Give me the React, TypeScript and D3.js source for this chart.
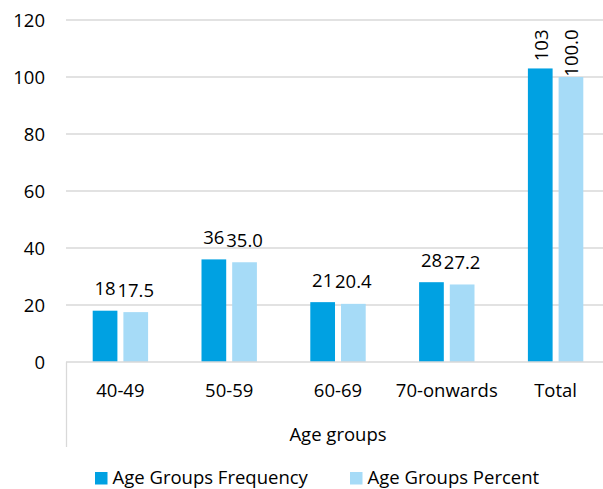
import React, { useEffect, useRef } from "react";
import * as d3 from "d3";

const categories = ["40-49", "50-59", "60-69", "70-onwards", "Total"];
const seriesNames = ["Age Groups Frequency", "Age Groups Percent"];
const frequency = [18, 36, 21, 28, 103];
const percent = [17.5, 35.0, 20.4, 27.2, 100.0];
const frequencyLabels = ["18", "36", "21", "28", "103"];
const percentLabels = ["17.5", "35.0", "20.4", "27.2", "100.0"];
const yTicks = [0, 20, 40, 60, 80, 100, 120];
const rotatedCategories = ["Total"];
const xAxisTitle = "Age groups";

const W = 603;
const H = 489;
const FONT = "'Open Sans', 'Noto Sans', sans-serif";
const FS = 18.5;
const COLORS = ["#00A1E2", "#A6DBF7"];
const GRID = "#D9D9D9";

export default function App() {
  const ref = useRef<SVGSVGElement | null>(null);

  useEffect(() => {
    const svg = d3.select(ref.current);
    svg.selectAll("*").remove();

    const plotLeft = 66;
    const plotRight = 610;
    const y = d3.scaleLinear().domain([0, 120]).range([362, 20]);
    const x = d3.scaleBand<string>().domain(categories).range([plotLeft, plotRight]);
    const inner = d3
      .scaleBand<string>()
      .domain(seriesNames)
      .range([-27.7, 27.7])
      .paddingInner(0.195);

    // gridlines
    svg
      .append("g")
      .selectAll("line")
      .data(yTicks.filter((t) => t > 0))
      .join("line")
      .attr("x1", plotLeft)
      .attr("x2", W)
      .attr("y1", (d) => y(d))
      .attr("y2", (d) => y(d))
      .attr("stroke", GRID)
      .attr("stroke-width", 1.3);

    // y tick labels
    svg
      .append("g")
      .selectAll("text")
      .data(yTicks)
      .join("text")
      .attr("x", 45)
      .attr("y", (d) => y(d))
      .attr("dy", "0.36em")
      .attr("text-anchor", "end")
      .attr("font-family", FONT)
      .attr("font-size", FS)
      .attr("fill", "#000")
      .text((d) => String(d));

    const series = [
      { name: seriesNames[0], values: frequency, labels: frequencyLabels, color: COLORS[0] },
      { name: seriesNames[1], values: percent, labels: percentLabels, color: COLORS[1] },
    ];

    // bars
    series.forEach((s) => {
      svg
        .append("g")
        .selectAll("rect")
        .data(categories)
        .join("rect")
        .attr("x", (c) => (x(c) as number) + x.bandwidth() / 2 + (inner(s.name) as number))
        .attr("width", inner.bandwidth())
        .attr("y", (c, i) => y(s.values[i]))
        .attr("height", (c, i) => y(0) - y(s.values[i]))
        .attr("fill", s.color);
    });

    // value labels
    series.forEach((s) => {
      const g = svg.append("g");
      categories.forEach((c, i) => {
        const cx = (x(c) as number) + x.bandwidth() / 2 + (inner(s.name) as number) + inner.bandwidth() / 2;
        const top = y(s.values[i]);
        if (rotatedCategories.includes(c)) {
          const t = g
            .append("text")
            .attr("font-family", FONT)
            .attr("font-size", FS)
            .attr("fill", "#000")
            .attr("text-anchor", "start")
            .text(s.labels[i]);
          const len = (t.node() as SVGTextElement).getComputedTextLength();
          let start = top - 8.5;
          if (start - len < 29.5) start = 29.5 + len;
          t.attr("transform", `translate(${cx + 7.5},${start}) rotate(-90)`);
        } else {
          g.append("text")
            .attr("x", cx)
            .attr("y", top - 15.5)
            .attr("text-anchor", "middle")
            .attr("font-family", FONT)
            .attr("font-size", FS)
            .attr("fill", "#000")
            .text(s.labels[i]);
        }
      });
    });

    // category axis
    svg
      .append("line")
      .attr("x1", plotLeft)
      .attr("x2", W)
      .attr("y1", y(0))
      .attr("y2", y(0))
      .attr("stroke", GRID)
      .attr("stroke-width", 1.3);
    svg
      .append("line")
      .attr("x1", plotLeft + 0.5)
      .attr("x2", plotLeft + 0.5)
      .attr("y1", y(0))
      .attr("y2", 447)
      .attr("stroke", GRID)
      .attr("stroke-width", 1.3);

    svg
      .append("g")
      .selectAll("text")
      .data(categories)
      .join("text")
      .attr("x", (c) => (x(c) as number) + x.bandwidth() / 2)
      .attr("y", 397)
      .attr("text-anchor", "middle")
      .attr("font-family", FONT)
      .attr("font-size", FS)
      .attr("fill", "#000")
      .text((c) => c);

    svg
      .append("text")
      .attr("x", (plotLeft + plotRight) / 2)
      .attr("y", 441)
      .attr("text-anchor", "middle")
      .attr("font-family", FONT)
      .attr("font-size", FS)
      .attr("fill", "#000")
      .text(xAxisTitle);

    // legend
    const legendX = [95, 350];
    series.forEach((s, i) => {
      const g = svg.append("g").attr("transform", `translate(${legendX[i]},472)`);
      g.append("rect").attr("width", 12.5).attr("height", 12.5).attr("fill", s.color);
      g.append("text")
        .attr("x", 17.5)
        .attr("y", 12)
        .attr("font-family", FONT)
        .attr("font-size", FS)
        .attr("fill", "#000")
        .text(s.name);
    });
  }, []);

  return (
    <svg
      ref={ref}
      width={W}
      height={H}
      style={{ position: "absolute", left: 0, top: 0, background: "#fff" }}
    />
  );
}
